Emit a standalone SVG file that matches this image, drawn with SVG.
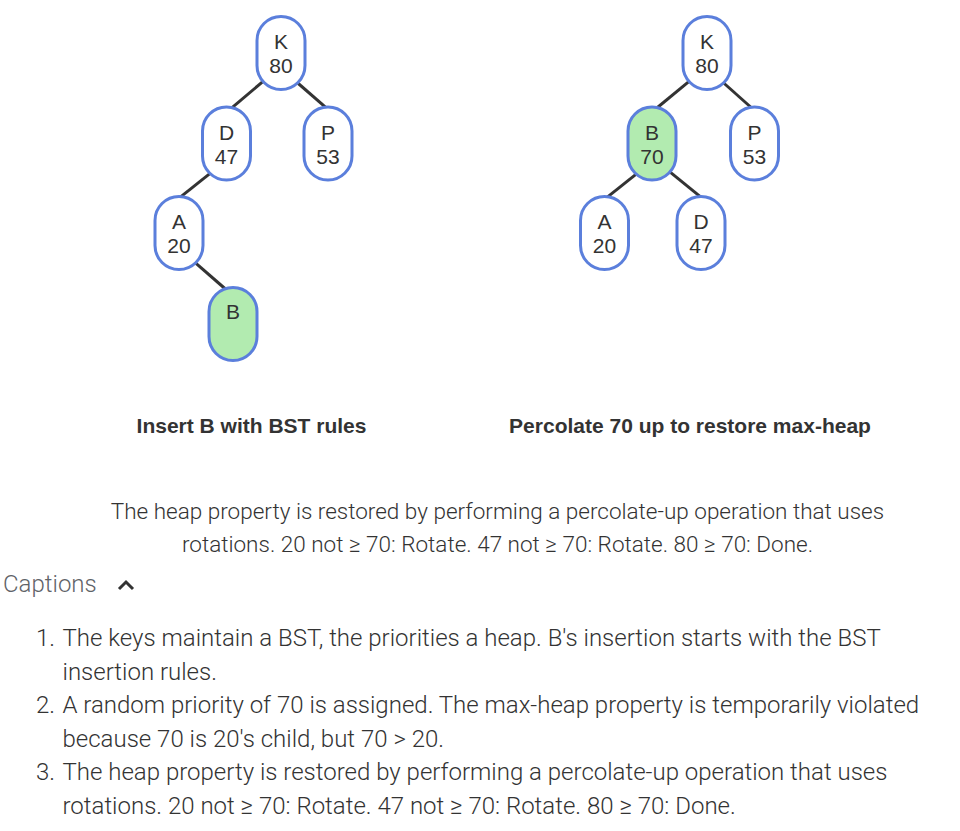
<svg xmlns="http://www.w3.org/2000/svg" width="960" height="831" viewBox="0 0 960 831">
<style>
.n rect{fill:#fff;stroke:#5b7fdc;stroke-width:3}
.n.g rect{fill:#b2ebb0}
.n text{font-family:"Liberation Sans",Arial,sans-serif;font-size:21px;fill:#333;text-anchor:middle}
.e line{stroke:#333;stroke-width:3}
.t{font-family:"Liberation Sans",Arial,sans-serif;font-size:21px;font-weight:bold;fill:#333;text-anchor:middle}
.c{font-family:Roboto,"Liberation Sans",sans-serif;font-weight:300;fill:#333}
.p{font-size:22.5px}
.l{font-size:24px}
</style>
<rect width="960" height="831" fill="#fff"/>
<g id="edges" class="e">
<line x1="264" y1="80.6" x2="230" y2="109.3"/>
<line x1="296" y1="81.5" x2="328" y2="109.3"/>
<line x1="212" y1="171.8" x2="180" y2="197.4"/>
<line x1="194" y1="261.6" x2="226" y2="289.5"/>
<line x1="690" y1="80.6" x2="655" y2="109.5"/>
<line x1="722" y1="81.5" x2="754" y2="110"/>
<line x1="639" y1="171.8" x2="607" y2="197.4"/>
<line x1="668" y1="170.3" x2="701.5" y2="197.6"/>
</g>
<g id="L-K" class="n"><rect x="257" y="16.5" width="48" height="73" rx="24"/><text x="281" y="49">K</text><text x="281" y="73">80</text></g>
<g id="L-D" class="n"><rect x="202.5" y="107" width="48" height="73" rx="24"/><text x="226.5" y="139.5">D</text><text x="226.5" y="163.5">47</text></g>
<g id="L-P" class="n"><rect x="304" y="107" width="48" height="73" rx="24"/><text x="328" y="139.5">P</text><text x="328" y="163.5">53</text></g>
<g id="L-A" class="n"><rect x="155" y="196.5" width="48" height="73" rx="24"/><text x="179" y="229">A</text><text x="179" y="253">20</text></g>
<g id="L-B" class="n g"><rect x="209" y="287.5" width="48" height="73" rx="24"/><text x="233" y="319">B</text></g>
<g id="R-K" class="n"><rect x="683" y="16.5" width="48" height="73" rx="24"/><text x="707" y="49">K</text><text x="707" y="73">80</text></g>
<g id="R-B" class="n g"><rect x="628" y="107" width="48" height="73" rx="24"/><text x="652" y="139.5">B</text><text x="652" y="163.5">70</text></g>
<g id="R-P" class="n"><rect x="730.5" y="107" width="48" height="73" rx="24"/><text x="754.5" y="139.5">P</text><text x="754.5" y="163.5">53</text></g>
<g id="R-A" class="n"><rect x="580.5" y="196.5" width="48" height="73" rx="24"/><text x="604.5" y="229">A</text><text x="604.5" y="253">20</text></g>
<g id="R-D" class="n"><rect x="677" y="196.5" width="48" height="73" rx="24"/><text x="701" y="229">D</text><text x="701" y="253">47</text></g>
<text class="t" x="251.5" y="433">Insert B with BST rules</text>
<text class="t" x="690" y="433">Percolate 70 up to restore max-heap</text>
<g class="c p" text-anchor="middle">
<text x="497.5" y="518.5">The heap property is restored by performing a percolate-up operation that uses</text>
<text x="497.5" y="551.5">rotations. 20 not ≥ 70: Rotate. 47 not ≥ 70: Rotate. 80 ≥ 70: Done.</text>
</g>
<text class="c l" x="3" y="592" style="fill:#5f6368">Captions</text>
<polyline points="119,589 126,582 133,589" fill="none" stroke="#333" stroke-width="3"/>
<g class="c l">
<text x="55" y="646" text-anchor="end">1.</text>
<text x="62.5" y="646">The keys maintain a BST, the priorities a heap. B's insertion starts with the BST</text>
<text x="62.5" y="680">insertion rules.</text>
<text x="55" y="713" text-anchor="end">2.</text>
<text x="62.5" y="713">A random priority of 70 is assigned. The max-heap property is temporarily violated</text>
<text x="62.5" y="747">because 70 is 20's child, but 70 &gt; 20.</text>
<text x="55" y="780" text-anchor="end">3.</text>
<text x="62.5" y="780">The heap property is restored by performing a percolate-up operation that uses</text>
<text x="62.5" y="814">rotations. 20 not ≥ 70: Rotate. 47 not ≥ 70: Rotate. 80 ≥ 70: Done.</text>
</g>
</svg>
